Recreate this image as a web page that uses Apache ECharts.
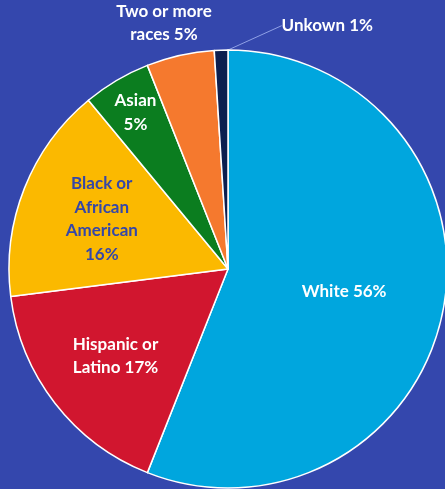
<!DOCTYPE html>
<html>
<head>
<meta charset="utf-8">
<script src="https://cdn.jsdelivr.net/npm/echarts@6/dist/echarts.min.js"></script>
<style>
    html, body { margin: 0; padding: 0; background: #3447ad; }
    #chart { width: 445px; height: 489px; }
</style>
</head>
<body>
<div id="chart"></div>
<script type="text/javascript">
    // 数据
    var categories = ['White', 'Hispanic or\nLatino', 'Black or\nAfrican\nAmerican', 'Asian', 'Two or more\nraces', 'Unkown'];
    var shares = [56, 17, 16, 5, 5, 1];
    var labelTexts = ['White 56%', 'Hispanic or\nLatino 17%', 'Black or\nAfrican\nAmerican\n16%', 'Asian\n5%', 'Two or more\nraces 5%', 'Unkown 1%'];

    var colors = ['#00a6de', '#d1162f', '#fbb900', '#0b7d1f', '#f5792e', '#0c1f4f'];
    var textColors = ['#fff', '#fff', '#3547a8', '#fff', '#fff', '#fff'];
    // label radius (fraction of pie radius) and extra angle shift in degrees
    var labelPlace = [[0.54, 0], [0.65, 0], [0.62, 0], [0.83, 0], [1.16, -2], [1.2, 24]];

    var cx = 228, cy = 269, R = 219;
    var total = shares.reduce(function (a, b) { return a + b; }, 0);
    var midAngles = [];
    var acc = 0;
    for (var i = 0; i < shares.length; i++) {
        midAngles.push((acc + shares[i] / 2) / total * 360);
        acc += shares[i];
    }

    var myChart = echarts.init(document.getElementById('chart'));

    var data = [];
    for (var i = 0; i < categories.length; i++) {
        data.push({
            name: categories[i],
            value: shares[i],
            itemStyle: { color: colors[i] },
            label: { color: textColors[i], formatter: labelTexts[i] },
            labelLine: { show: i === 5 }
        });
    }

    var option = {
        backgroundColor: '#3447ad',
        animation: false,
        series: [{
            type: 'pie',
            center: [cx, cy],
            radius: [0, R],
            startAngle: 90,
            clockwise: true,
            avoidLabelOverlap: false,
            itemStyle: { borderColor: '#ffffff', borderWidth: 1.5 },
            label: {
                show: true,
                position: 'inside',
                fontFamily: 'Lato',
                fontWeight: 'bold',
                fontSize: 17,
                lineHeight: 23.5,
                align: 'center'
            },
            labelLine: {
                show: false,
                length: 0,
                length2: 0,
                lineStyle: { color: '#8fa0e6', width: 1 }
            },
            labelLayout: function (params) {
                var i = params.dataIndex;
                var p = labelPlace[i];
                var a = (midAngles[i] + p[1]) * Math.PI / 180;
                var x = cx + p[0] * R * Math.sin(a);
                var y = cy - p[0] * R * Math.cos(a);
                return { x: x, y: y, align: 'center', verticalAlign: 'middle' };
            },
            data: data
        }]
    };

    myChart.setOption(option);
</script>
</body>
</html>
